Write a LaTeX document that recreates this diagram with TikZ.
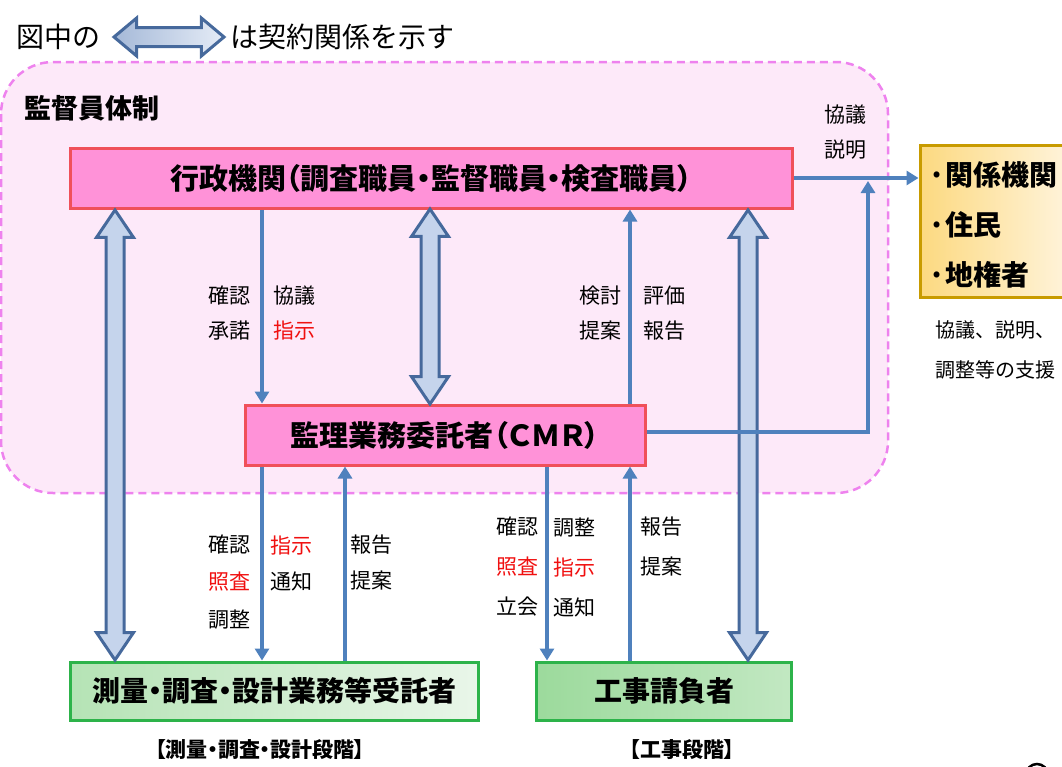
\documentclass[tikz,border=0pt]{standalone}
\usepackage{fontspec}
\setmainfont{Noto Sans CJK JP}
\newfontfamily\jpb[RawFeature=+palt]{Noto Sans CJK JP}
\usetikzlibrary{shapes.arrows,arrows.meta,calc}
\definecolor{regfill}{HTML}{FDE9F9}
\definecolor{regline}{HTML}{EE82EE}
\definecolor{pinkfill}{HTML}{FF92D8}
\definecolor{pinkline}{HTML}{F0505A}
\definecolor{thinblue}{HTML}{4F81BD}
\definecolor{bigline}{HTML}{46699C}
\definecolor{bigfill}{HTML}{C5D4EC}
\definecolor{greenline}{HTML}{2DB34A}
\definecolor{goldline}{HTML}{C89B00}
\definecolor{jred}{HTML}{F01010}
\definecolor{sgL}{HTML}{B5E3B5}
\definecolor{sgR}{HTML}{E9F6E9}
\definecolor{wgL}{HTML}{9CDA9C}
\definecolor{wgR}{HTML}{C2E8C2}
\definecolor{yL}{HTML}{FCD980}
\definecolor{yR}{HTML}{FFF4DC}
\begin{document}
\begin{tikzpicture}[x=1pt,y=-1pt,
  pinkbox/.style={draw=pinkline,line width=3pt,fill=pinkfill,inner sep=0pt,
    font=\jpb\bfseries\fontsize{29}{29}\selectfont},
  greenbox/.style={draw=greenline,line width=3pt,inner sep=0pt,
    font=\jpb\bfseries\fontsize{28}{28}\selectfont},
  thinarr/.style={draw=thinblue,line width=3.5pt,-{Triangle[width=14pt,length=12pt]}},
  dblarr/.style={double arrow,draw=bigline,line width=3pt,fill=bigfill,
    inner xsep=0pt,inner ysep=7.5pt,minimum width=0pt,double arrow head extend=9.5pt,double arrow tip angle=68,
    rotate=90},
  lbl/.style={font=\fontsize{21}{35}\selectfont,align=center,inner sep=0pt},
  plain/.style={inner sep=0pt}
]
\useasboundingbox (0,0) rectangle (1062,766);
% legend
\node[plain,anchor=west,font=\fontsize{28}{28}\selectfont] (leg1) at (16,37) {図中の};
\node[double arrow,draw=bigline,line width=3pt,left color=bigfill!75!bigline,right color=bigfill!45!white,
  inner xsep=0pt,inner ysep=8pt,minimum width=0pt,minimum height=110pt,double arrow head extend=9.5pt,double arrow tip angle=80]
  (legarr) at (169,37) {};
\node[plain,anchor=west,font=\fontsize{28}{28}\selectfont] (leg2) at (230,37) {は契約関係を示す};
% region
\draw[regline,fill=regfill,line width=2.5pt,dash pattern=on 8pt off 5pt,rounded corners=52pt]
  (1,62) rectangle (888,493);
\node[plain,anchor=west,font=\jpb\bfseries\fontsize{27}{27}\selectfont] (title) at (24,108) {監督員体制};
% boxes
\node[pinkbox,minimum width=722pt,minimum height=60pt] (gov) at (431,178)
  {行政機関（調査職員・監督職員・検査職員）};
\node[pinkbox,minimum width=400pt,minimum height=60pt] (cmr) at (445,435)
  {監理業務委託者（ＣＭＲ）};
\node[greenbox,left color=sgL,right color=sgR,minimum width=408pt,minimum height=58pt]
  (survey) at (274,691) {測量・調査・設計業務等受託者};
\node[greenbox,left color=wgL,right color=wgR,minimum width=255pt,minimum height=58pt]
  (works) at (664,691) {工事請負者};
\node[draw=goldline,line width=3pt,left color=yL,right color=yR,
  minimum width=150pt,minimum height=152pt,inner sep=0pt] (rel) at (995,221) {};
\node[plain,anchor=west,align=left,font=\jpb\bfseries\fontsize{28}{50}\selectfont] (reltext) at (928,225)
  {·関係機関\\·住民\\·地権者};
\node[plain,align=left,font=\fontsize{20}{40}\selectfont] (support) at (995,350) {協議、説明、\\調整等の支援};
% big double arrows (contracts)
\node[dblarr,minimum height=450pt] (c1) at ($(gov.south -| 115,0)!0.5!(survey.north -| 115,0)$) {};
\node[dblarr,minimum height=195pt] (c2) at ($(gov.south -| 430,0)!0.5!(cmr.north -| 430,0)$) {};
\node[dblarr,minimum height=450pt] (c3) at ($(gov.south -| 748,0)!0.5!(works.north -| 748,0)$) {};
% thin arrows
\draw[thinarr] (gov.south -| 262,0) -- (cmr.north -| 262,0);
\draw[thinarr] (cmr.north -| 630,0) -- (gov.south -| 630,0);
\draw[thinarr] (cmr.south -| 262,0) -- (survey.north -| 262,0);
\draw[thinarr] (survey.north -| 345,0) -- (cmr.south -| 345,0);
\draw[thinarr] (cmr.south -| 547,0) -- (works.north -| 547,0);
\draw[thinarr] (works.north -| 630,0) -- (cmr.south -| 630,0);
\draw[thinarr] (gov.east) -- (gov.east -| rel.west);
\coordinate (corner) at (868,432);
\draw[thinarr] (cmr.east |- corner) -- (corner) -- ($(corner |- gov.east)+(0,3)$);
% labels
\node[lbl] (l1) at (229,313) {確認\\承諾};
\node[lbl] (l2) at (294,313) {協議\\\textcolor{jred}{指示}};
\node[lbl] (l3) at (600,313) {検討\\提案};
\node[lbl] (l4) at (664,313) {評価\\報告};
\node[lbl,font=\fontsize{21}{37.5}\selectfont] (l5) at (229,582) {確認\\\textcolor{jred}{照査}\\調整};
\node[lbl,font=\fontsize{21}{36}\selectfont] (l6) at (291,563) {\textcolor{jred}{指示}\\通知};
\node[lbl,font=\fontsize{21}{36}\selectfont] (l7) at (371,563) {報告\\提案};
\node[lbl,font=\fontsize{21}{40}\selectfont] (l8) at (517,567) {確認\\\textcolor{jred}{照査}\\立会};
\node[lbl,font=\fontsize{21}{40}\selectfont] (l9) at (574,567) {調整\\\textcolor{jred}{指示}\\通知};
\node[lbl,font=\fontsize{21}{40}\selectfont] (l10) at (661,547) {報告\\提案};
\node[lbl] (l11) at (845,132) {協議\\説明};
% stage captions
\node[plain,font=\jpb\bfseries\fontsize{21}{21}\selectfont] (st1) at (260,750) {【測量・調査・設計段階】};
\node[plain,font=\jpb\bfseries\fontsize{21}{21}\selectfont] (st2) at (682,750) {【工事段階】};
% cut-off mark bottom right
\draw[line width=2.5pt] (1037,775) circle (11);
\end{tikzpicture}
\end{document}
